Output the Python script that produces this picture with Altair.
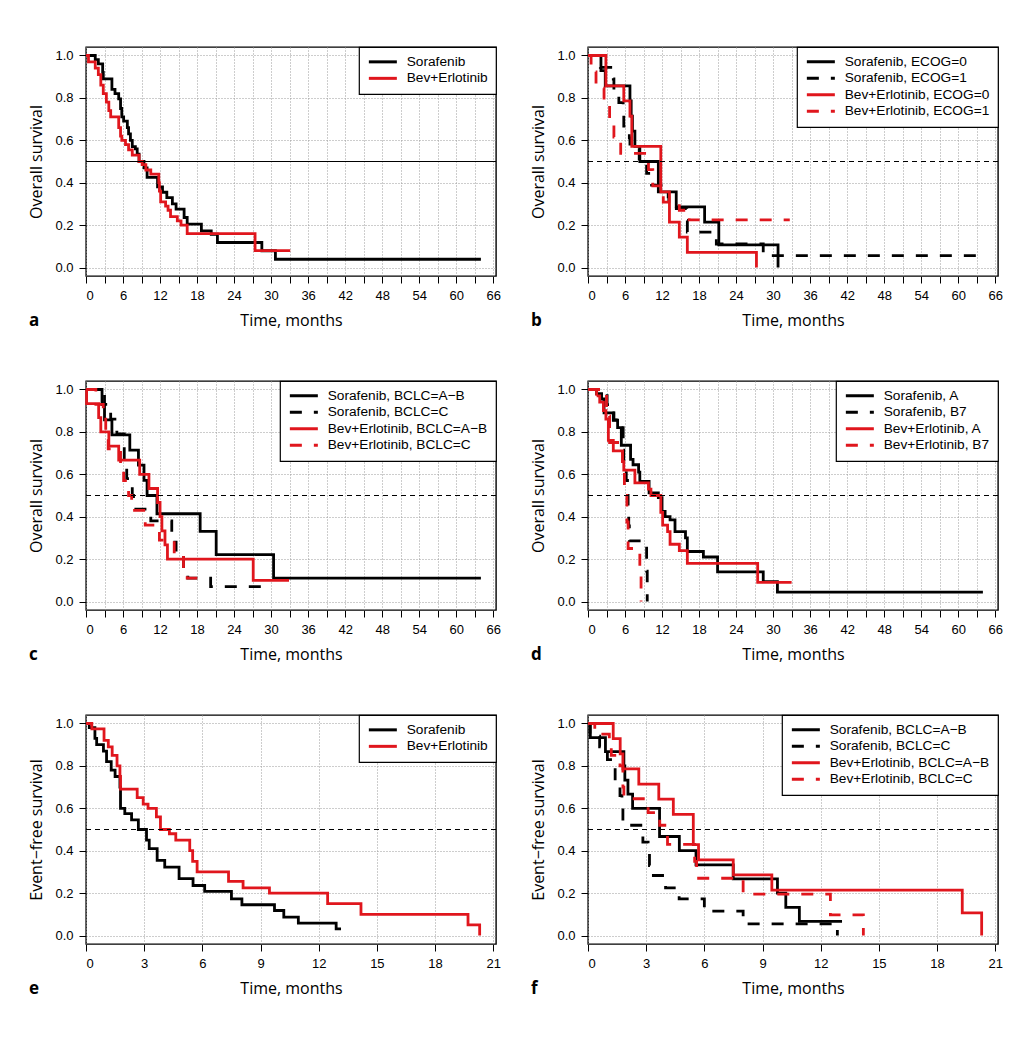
import altair as alt
import pandas as pd

# ---------------- data ----------------
# Panel a: overall survival
a_sor_t = [0, 1.5, 2.0, 2.7, 2.8, 4.2, 4.7, 5.3, 5.6, 5.8, 6.1, 6.7, 6.9, 7.2, 7.5, 8.0, 8.3, 8.6, 9.4, 9.9, 11.6, 12.4, 13.1, 14.0, 14.6, 15.9, 16.4, 18.7, 20.3, 21.3, 28.5, 30.7, 64.0]
a_sor_s = [1.0, 0.98, 0.96, 0.92, 0.89, 0.84, 0.82, 0.795, 0.75, 0.71, 0.69, 0.66, 0.63, 0.6, 0.57, 0.56, 0.535, 0.5, 0.47, 0.425, 0.38, 0.355, 0.33, 0.3, 0.275, 0.236, 0.205, 0.173, 0.157, 0.118, 0.079, 0.039, 0.039]
a_bev_t = [0, 0.4, 1.5, 2.0, 2.4, 2.8, 3.3, 3.7, 4.0, 5.3, 5.6, 5.8, 6.4, 6.9, 7.5, 8.6, 9.1, 9.7, 10.5, 11.8, 11.9, 12.1, 12.9, 13.3, 13.7, 14.8, 15.4, 16.4, 27.4, 33.1]
a_bev_s = [1.0, 0.97, 0.94, 0.91, 0.86, 0.82, 0.78, 0.74, 0.71, 0.66, 0.62, 0.6, 0.58, 0.555, 0.53, 0.5, 0.485, 0.46, 0.44, 0.4, 0.36, 0.31, 0.29, 0.27, 0.24, 0.22, 0.2, 0.16, 0.08, 0.08]

# Panel b: by ECOG
b_sor0_t = [0, 2.1, 2.8, 6.8, 7.0, 7.2, 7.6, 8.4, 11.4, 14.3, 18.9, 21.2, 30.8]
b_sor0_s = [1, 0.929, 0.857, 0.786, 0.714, 0.643, 0.571, 0.5, 0.357, 0.286, 0.214, 0.107, 0]
b_sor1_t = [0, 2.0, 4.1, 4.2, 5.0, 5.7, 5.8, 6.7, 6.8, 8.3, 9.5, 10.3, 13.0, 13.1, 16.0, 16.1, 20.8, 28.4, 64.0]
b_sor1_s = [1, 0.944, 0.889, 0.833, 0.778, 0.722, 0.667, 0.611, 0.556, 0.5, 0.444, 0.389, 0.333, 0.278, 0.222, 0.167, 0.111, 0.056, 0.056]
b_bev0_t = [0, 2.9, 5.8, 6.8, 7.1, 11.8, 13.2, 14.8, 16.1, 27.3]
b_bev0_s = [1, 0.857, 0.786, 0.714, 0.571, 0.357, 0.214, 0.143, 0.071, 0]
b_bev1_t = [0, 0.5, 1.3, 2.6, 3.5, 4.2, 5.3, 9.8, 10.5, 12.2, 14.8, 16.4, 32.7]
b_bev1_s = [1, 0.923, 0.846, 0.769, 0.692, 0.615, 0.538, 0.462, 0.385, 0.308, 0.27, 0.225, 0.225]

# Panel c: by BCLC
c_sorAB_t = [0, 2.6, 3.0, 4.2, 7.1, 8.5, 9.4, 9.9, 11.5, 18.5, 21.1, 30.4, 64.0]
c_sorAB_s = [1, 0.929, 0.857, 0.786, 0.714, 0.643, 0.571, 0.5, 0.414, 0.331, 0.221, 0.11, 0.11]
c_sorC_t = [0, 3.0, 4.0, 5.0, 6.2, 6.6, 7.5, 7.7, 10.5, 13.9, 14.6, 15.8, 16.5, 20.2, 28.5]
c_sorC_s = [1, 0.93, 0.86, 0.79, 0.65, 0.58, 0.5, 0.436, 0.38, 0.28, 0.22, 0.155, 0.11, 0.07, 0.07]
c_bevAB_t = [0, 0.1, 2.05, 2.4, 3.7, 5.3, 8.7, 10.2, 11.6, 12.0, 12.3, 12.8, 13.2, 27.1, 32.9]
c_bevAB_s = [1, 0.933, 0.867, 0.8, 0.733, 0.667, 0.6, 0.533, 0.467, 0.4, 0.333, 0.267, 0.2, 0.1, 0.1]
c_bevC_t = [0, 1.6, 2.8, 3.2, 3.6, 5.6, 6.1, 6.9, 7.4, 9.6, 11.9, 14.3, 15.8, 16.4, 18.3]
c_bevC_s = [1, 0.93, 0.86, 0.79, 0.72, 0.65, 0.57, 0.5, 0.43, 0.36, 0.29, 0.22, 0.15, 0.11, 0.11]

# Panel d: by Child-Pugh
d_sorA_t = [0, 1.4, 2.2, 2.6, 4.1, 4.8, 5.4, 6.9, 7.3, 8.2, 8.4, 9.9, 11.4, 12.0, 12.5, 13.3, 14.1, 15.8, 16.1, 18.7, 21.0, 28.4, 30.7, 64.0]
d_sorA_s = [1, 0.98, 0.955, 0.89, 0.855, 0.82, 0.737, 0.67, 0.645, 0.61, 0.567, 0.512, 0.49, 0.425, 0.4, 0.385, 0.33, 0.3, 0.236, 0.21, 0.14, 0.094, 0.044, 0.044]
d_sorB_t = [0, 3.1, 4.2, 5.7, 5.8, 6.2, 6.4, 6.5, 6.6, 6.7, 9.5, 9.6]
d_sorB_s = [1, 0.929, 0.857, 0.714, 0.643, 0.571, 0.5, 0.429, 0.357, 0.286, 0.143, 0]
d_bevA_t = [0, 1.4, 1.9, 2.5, 2.9, 3.3, 4.1, 5.6, 5.8, 7.6, 9.8, 10.2, 11.8, 12.1, 12.9, 13.3, 14.8, 16.1, 27.5, 33.0]
d_bevA_s = [1, 0.97, 0.94, 0.9, 0.86, 0.76, 0.71, 0.66, 0.62, 0.56, 0.53, 0.5, 0.42, 0.36, 0.33, 0.27, 0.24, 0.18, 0.09, 0.09]
d_bevB_t = [0, 3.0, 3.5, 5.6, 5.9, 6.3, 6.5, 8.4, 8.6]
d_bevB_s = [1, 0.875, 0.75, 0.625, 0.5, 0.375, 0.25, 0.125, 0.0]

# Panel e: event-free survival
e_sor_t = [0, 0.17, 0.46, 0.55, 0.9, 1.06, 1.3, 1.5, 1.75, 1.78, 2.0, 2.35, 2.7, 3.12, 3.26, 3.67, 4.06, 4.8, 5.52, 6.12, 7.5, 8.04, 9.72, 10.2, 10.95, 12.9, 13.15]
e_sor_s = [1, 0.98, 0.93, 0.9, 0.87, 0.82, 0.78, 0.75, 0.7, 0.6, 0.575, 0.545, 0.5, 0.45, 0.41, 0.354, 0.323, 0.268, 0.236, 0.208, 0.173, 0.145, 0.118, 0.087, 0.058, 0.031, 0.031]
e_bev_t = [0, 0.3, 0.93, 1.15, 1.35, 1.6, 1.75, 1.78, 2.64, 2.95, 3.2, 3.63, 3.84, 4.3, 4.63, 5.35, 5.5, 5.73, 7.35, 8.1, 9.46, 12.46, 14.18, 19.7, 20.3]
e_bev_s = [1, 0.975, 0.92, 0.89, 0.85, 0.8, 0.75, 0.69, 0.65, 0.62, 0.6, 0.56, 0.5, 0.48, 0.45, 0.4, 0.35, 0.3, 0.255, 0.225, 0.2, 0.15, 0.1, 0.05, 0.0]

# Panel f: event-free survival by BCLC
f_sorAB_t = [0, 0.12, 0.9, 1.85, 1.9, 2.06, 2.3, 3.69, 4.71, 5.57, 7.49, 9.77, 10.2, 10.9, 13.1]
f_sorAB_s = [1, 0.933, 0.867, 0.8, 0.733, 0.667, 0.6, 0.467, 0.4, 0.333, 0.267, 0.2, 0.133, 0.067, 0.067]
f_sorC_t = [0, 0.1, 0.6, 1.0, 1.4, 1.65, 1.75, 1.8, 2.83, 3.1, 3.17, 3.25, 4.0, 4.7, 6.0, 8.0, 12.86]
f_sorC_s = [1, 0.94, 0.89, 0.83, 0.72, 0.66, 0.6, 0.52, 0.44, 0.39, 0.33, 0.283, 0.225, 0.173, 0.115, 0.055, 0]
f_bevAB_t = [0, 1.3, 1.66, 1.8, 2.62, 3.65, 4.4, 5.43, 5.7, 7.49, 9.48, 19.3, 20.3]
f_bevAB_s = [1, 0.929, 0.857, 0.786, 0.714, 0.643, 0.571, 0.429, 0.357, 0.286, 0.214, 0.107, 0]
f_bevC_t = [0, 0.35, 1.1, 1.2, 1.65, 1.8, 1.85, 3.1, 3.7, 4.1, 5.5, 5.6, 8.0, 12.5, 14.2]
f_bevC_s = [1, 0.95, 0.9, 0.85, 0.8, 0.7, 0.645, 0.58, 0.52, 0.43, 0.35, 0.27, 0.195, 0.097, 0]

BLACK = "#000000"
RED = "#e0161d"
SOLID = [1, 0]
DASH = [12, 12]

PW, PH = 410, 229


def km_frame(series):
    rows = []
    for name, ts, ss in series:
        for t, s in zip(ts, ss):
            rows.append({"series": name, "time": t, "surv": s})
    return pd.DataFrame(rows)


def panel(series, colors, dashes, xmax, xstep, lab_every, letter, ytitle, ref_dash):
    df = km_frame(series)
    names = [s[0] for s in series]
    xvals = list(range(0, int(round(xmax)) + 1, xstep))
    xdom = xmax * 1.0068
    yvals = [round(i * 0.1, 1) for i in range(11)]
    x = alt.X("time:Q",
              scale=alt.Scale(domain=[0, xdom], nice=False, zero=False),
              axis=alt.Axis(values=xvals, title="Time, months",
                            labelExpr=f"datum.value % {lab_every} == 0 ? datum.label : ''"))
    y = alt.Y("surv:Q",
              scale=alt.Scale(domain=[-0.04, 1.04], nice=False, zero=False),
              axis=alt.Axis(values=yvals, title=ytitle,
                            labelExpr="(round(datum.value*10) % 2 == 0) ? format(datum.value, '.1f') : ''",
                            tickOpacity={"condition": {"test": "round(datum.value*10) % 2 != 0", "value": 0}, "value": 1}))
    enc = dict(
        x=x, y=y,
        color=alt.Color("series:N", scale=alt.Scale(domain=names, range=colors),
                        legend=alt.Legend(title=None)),
    )
    if dashes is not None:
        enc["strokeDash"] = alt.StrokeDash("series:N", scale=alt.Scale(domain=names, range=dashes),
                                           legend=alt.Legend(title=None))
    lines = alt.Chart(df).mark_line(interpolate="step-after", strokeWidth=2.8).encode(**enc)
    ref = alt.Chart(df).mark_rule(color="black", strokeWidth=1.1, strokeDash=ref_dash).encode(
        y=alt.datum(0.5))
    return alt.layer(lines, ref).properties(
        width=PW, height=PH,
        title=alt.TitleParams(text=letter, orient="bottom", anchor="start", frame="bounds",
                              font="Open Sans", fontSize=17, fontWeight="bold", color="black",
                              offset=0, dy=-15))


pa = panel([("Sorafenib", a_sor_t, a_sor_s), ("Bev+Erlotinib", a_bev_t, a_bev_s)],
           [BLACK, RED], None, 66, 3, 6, "a", "Overall survival", SOLID)
pb = panel([("Sorafenib, ECOG=0", b_sor0_t, b_sor0_s), ("Sorafenib, ECOG=1", b_sor1_t, b_sor1_s),
            ("Bev+Erlotinib, ECOG=0", b_bev0_t, b_bev0_s), ("Bev+Erlotinib, ECOG=1", b_bev1_t, b_bev1_s)],
           [BLACK, BLACK, RED, RED], [SOLID, DASH, SOLID, DASH], 66, 3, 6, "b", "Overall survival", [5, 4])
pc = panel([("Sorafenib, BCLC=A\u2212B", c_sorAB_t, c_sorAB_s), ("Sorafenib, BCLC=C", c_sorC_t, c_sorC_s),
            ("Bev+Erlotinib, BCLC=A\u2212B", c_bevAB_t, c_bevAB_s), ("Bev+Erlotinib, BCLC=C", c_bevC_t, c_bevC_s)],
           [BLACK, BLACK, RED, RED], [SOLID, DASH, SOLID, DASH], 66, 3, 6, "c", "Overall survival", [5, 4])
pd_ = panel([("Sorafenib, A", d_sorA_t, d_sorA_s), ("Sorafenib, B7", d_sorB_t, d_sorB_s),
             ("Bev+Erlotinib, A", d_bevA_t, d_bevA_s), ("Bev+Erlotinib, B7", d_bevB_t, d_bevB_s)],
            [BLACK, BLACK, RED, RED], [SOLID, DASH, SOLID, DASH], 66, 3, 6, "d", "Overall survival", [5, 4])
pe = panel([("Sorafenib", e_sor_t, e_sor_s), ("Bev+Erlotinib", e_bev_t, e_bev_s)],
           [BLACK, RED], None, 21, 3, 3, "e", "Event\u2212free survival", [5, 4])
pf = panel([("Sorafenib, BCLC=A\u2212B", f_sorAB_t, f_sorAB_s), ("Sorafenib, BCLC=C", f_sorC_t, f_sorC_s),
            ("Bev+Erlotinib, BCLC=A\u2212B", f_bevAB_t, f_bevAB_s), ("Bev+Erlotinib, BCLC=C", f_bevC_t, f_bevC_s)],
           [BLACK, BLACK, RED, RED], [SOLID, DASH, SOLID, DASH], 21, 3, 3, "f", "Event\u2212free survival", [5, 4])


def indep(c):
    return c.resolve_scale(color="independent", strokeDash="independent", x="independent", y="independent").resolve_legend(
        color="independent", strokeDash="independent").resolve_axis(x="independent", y="independent")


row1 = indep(alt.hconcat(pa, pb, spacing=28))
row2 = indep(alt.hconcat(pc, pd_, spacing=28))
row3 = indep(alt.hconcat(pe, pf, spacing=28))

chart = indep(alt.vconcat(row1, row2, row3, spacing=49)).properties(
    padding={"left": 20, "top": 37, "right": 10, "bottom": 10},
    background="white",
).configure_view(
    stroke="black", strokeWidth=1.4
).configure_axis(
    domain=False,
    labelFont="Liberation Sans", labelFontSize=13, labelColor="black",
    titleFont="Open Sans", titleFontSize=16, titleFontWeight="normal", titleColor="black",
    tickColor="black", tickSize=7, tickWidth=1,
    labelPadding=6,
    grid=True, gridColor="#9a9a9a", gridDash=[1, 2], gridWidth=1,
).configure_axisX(
    titlePadding=10
).configure_axisY(
    titlePadding=10
).configure_legend(
    orient="top-right", offset=0,
    strokeColor="black", strokeWidth=1.2, fillColor="white",
    padding=8, cornerRadius=0,
    labelFont="Liberation Sans", labelFontSize=13.7, labelColor="black", labelLimit=400,
    labelOffset=26,
    symbolType="M-1,0H4.6", symbolSize=100, symbolStrokeWidth=3,
    rowPadding=1.5,
)

chart.save("out.html", embed_options={"renderer": "svg", "actions": False})
